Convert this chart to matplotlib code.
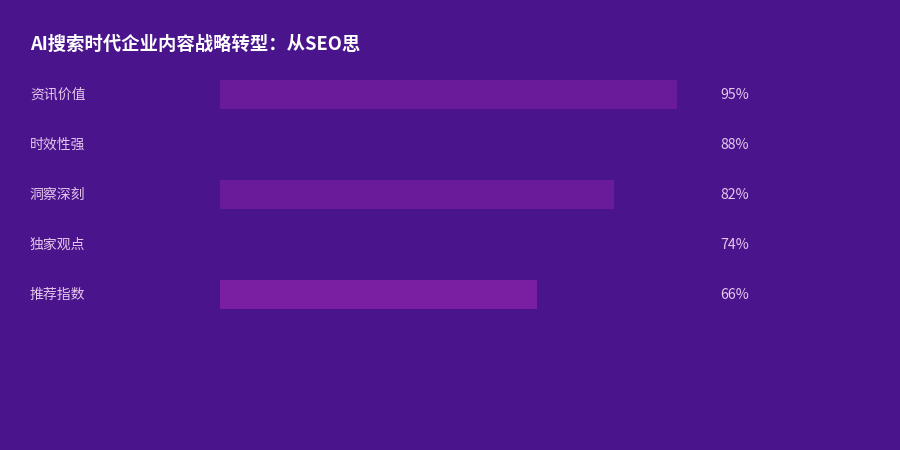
import matplotlib
matplotlib.use('Agg')
import matplotlib.pyplot as plt
import matplotlib.transforms as mtransforms

plt.rcParams['font.family'] = ['Noto Sans CJK SC', 'DejaVu Sans']

title = 'AI搜索时代企业内容战略转型：从SEO思'
categories = ['资讯价值', '时效性强', '洞察深刻', '独家观点', '推荐指数']
values = [95, 88, 82, 74, 66]
bar_colors = ['#6a1b9a', '#4a148c', '#6a1b9a', '#4a148c', '#7b1fa2']

bg = '#4a148c'
text_col = '#e6c8ec'

fig = plt.figure(figsize=(9, 4.5), dpi=100)
fig.patch.set_facecolor(bg)

# axes: 0..100% mapped to x 220..701 px, rows 69..319 px from top
ax = fig.add_axes([220 / 900, 1 - 319 / 450, 481 / 900, 250 / 450])
ax.set_facecolor(bg)

ypos = list(range(len(categories)))
ax.barh(ypos, values, height=0.58, color=bar_colors, edgecolor='none')
ax.set_xlim(0, 100)
ax.set_ylim(len(categories) - 0.5, -0.5)
ax.axis('off')

trans = mtransforms.blended_transform_factory(fig.transFigure, ax.transData)
for y, cat, v in zip(ypos, categories, values):
    fig.text(30 / 900, y + 0.02, cat, transform=trans, color=text_col, fontsize=10,
             ha='left', va='center')
    fig.text(720 / 900, y + 0.02, f'{v}%', transform=trans, color=text_col, fontsize=10.2,
             ha='left', va='center')

fig.text(30 / 900, 1 - 44.5 / 450, title, color='white', fontsize=13.2,
         fontweight='bold', ha='left', va='center')

fig.savefig('out.png', dpi=100, facecolor=bg)
